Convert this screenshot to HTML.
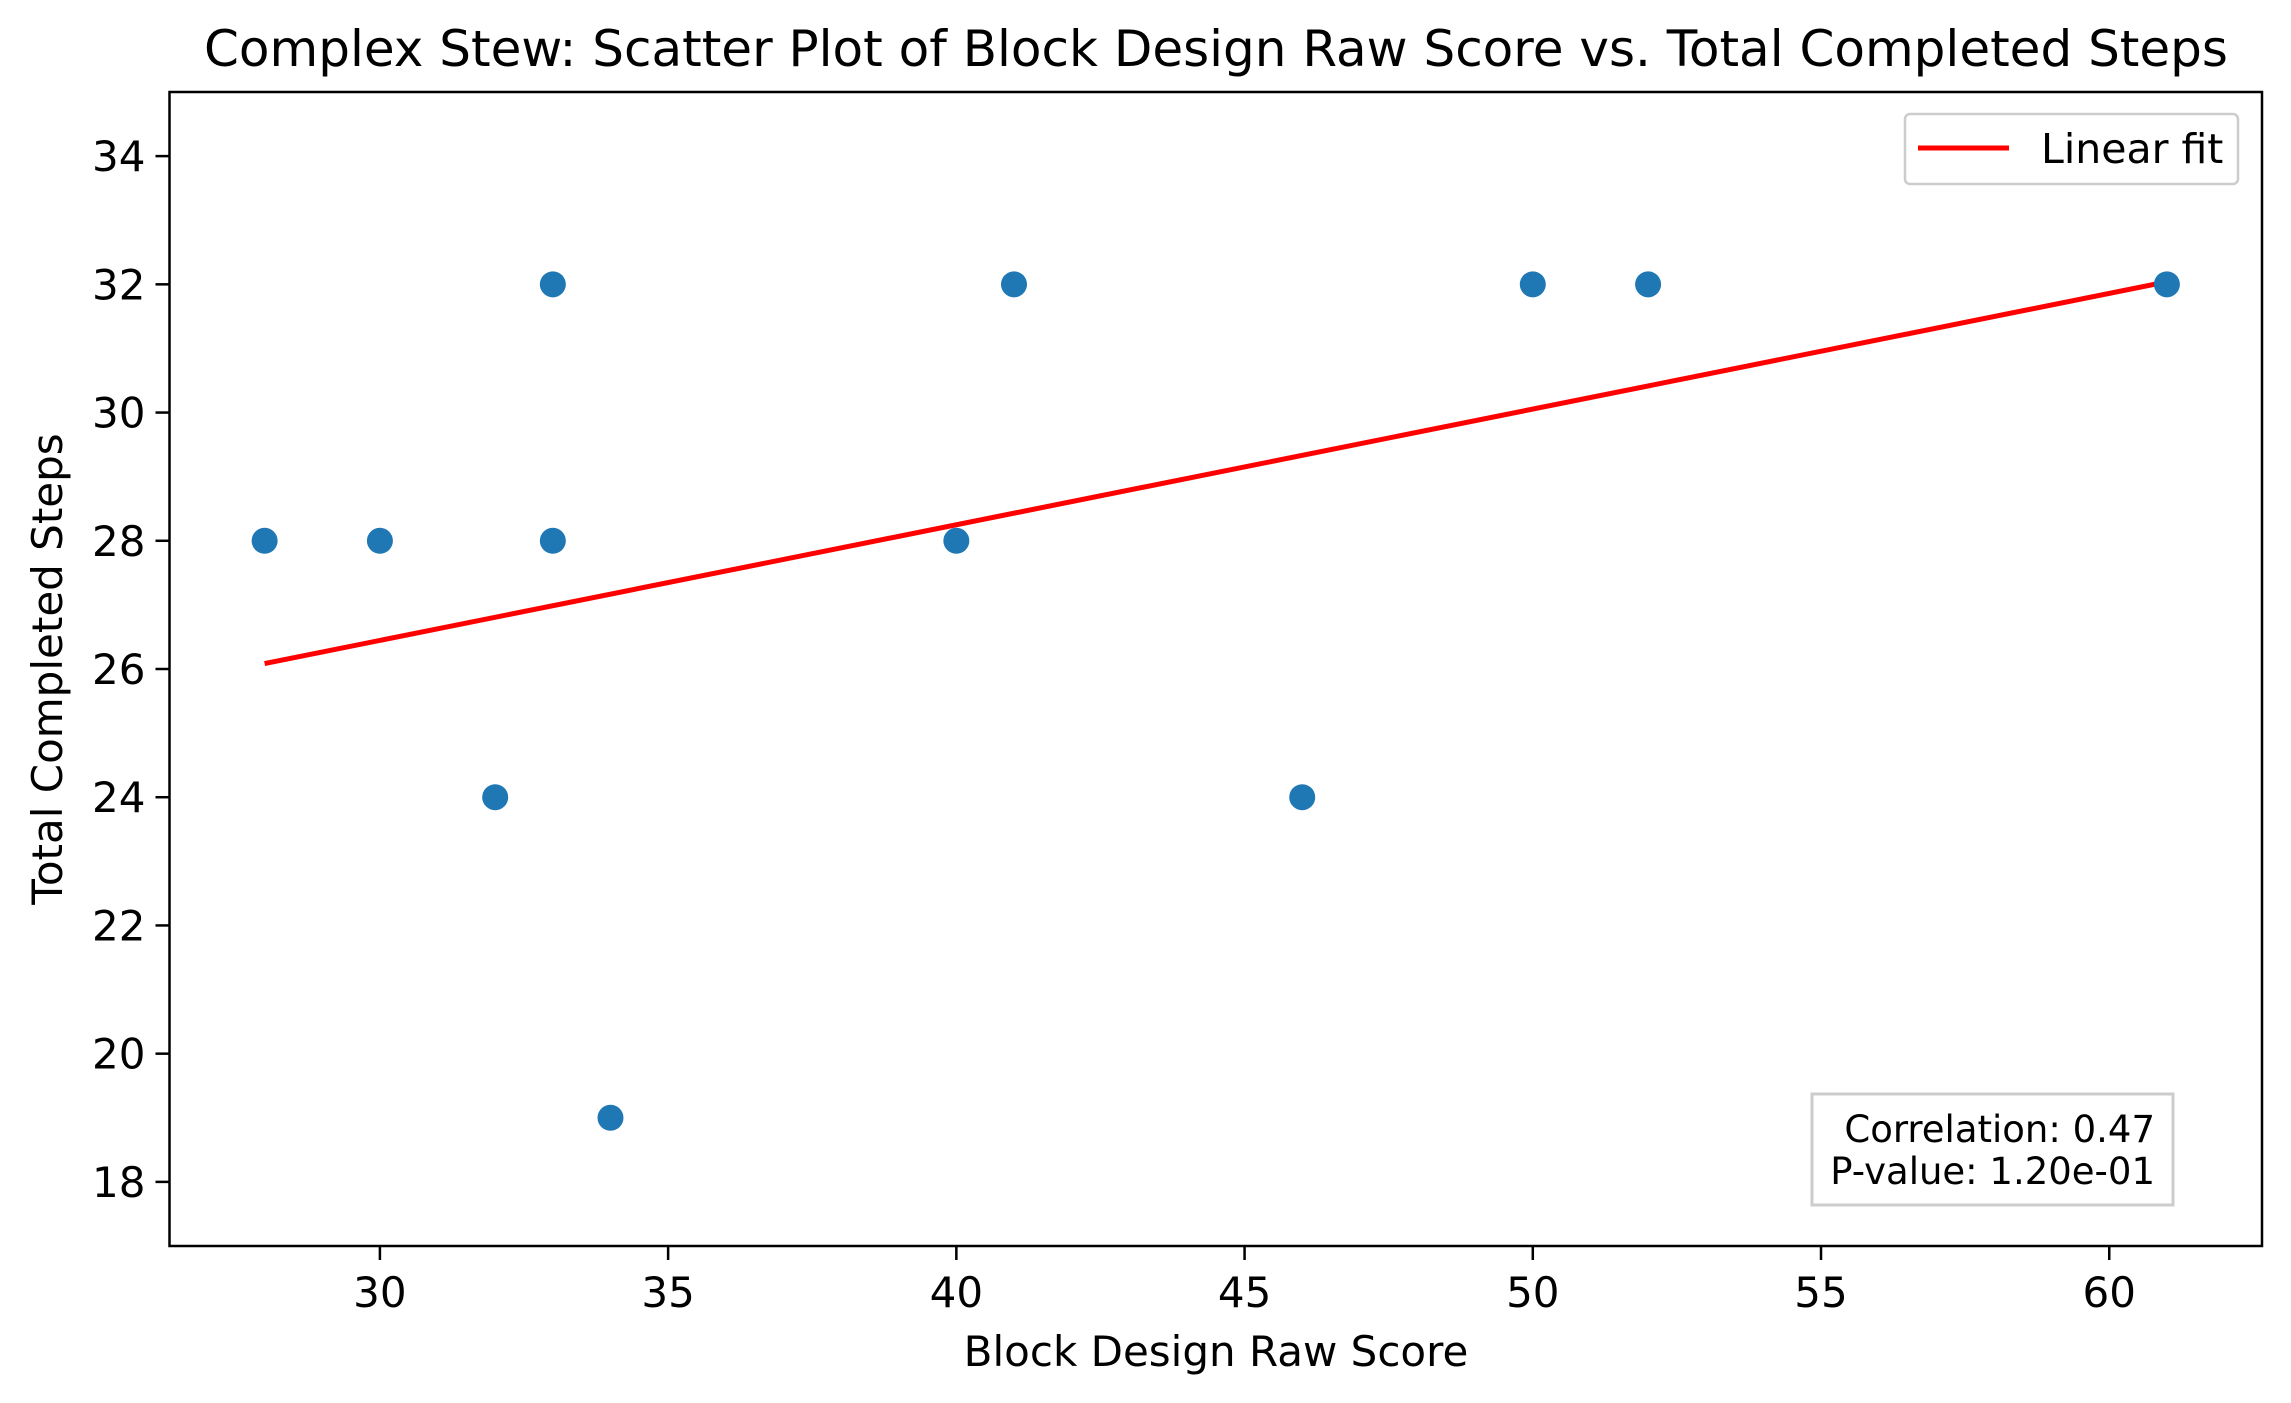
<!DOCTYPE html>
<html><head><meta charset="utf-8">
<style>
html,body{margin:0;padding:0;background:#fff;}
svg{display:block;font-family:"DejaVu Sans","Liberation Sans",sans-serif;}
</style></head>
<body>
<svg id="chart" width="2291" height="1403" viewBox="0 0 2291 1403" xmlns="http://www.w3.org/2000/svg">
<rect width="2291" height="1403" fill="#fff"/>
<text x="1216" y="66" font-size="50" text-anchor="middle">Complex Stew: Scatter Plot of Block Design Raw Score vs. Total Completed Steps</text>
<g id="xticks"></g>
<g id="yticks"></g>
<g id="fit"></g>
<g id="points"></g>
<rect x="169.5" y="92" width="2092.5" height="1154" fill="none" stroke="#000" stroke-width="2.5"/>
<text x="1216" y="1366" font-size="42" text-anchor="middle">Block Design Raw Score</text>
<text transform="translate(62,669) rotate(-90)" font-size="42" text-anchor="middle">Total Completed Steps</text>
<g>
<rect x="1905" y="114" width="333" height="70" rx="5" fill="#fff" stroke="#ccc" stroke-width="2.5"/>
<line x1="1918" y1="148" x2="2009" y2="148" stroke="red" stroke-width="5"/>
<text x="2041" y="163" font-size="41">Linear fit</text>
</g>
<g>
<rect x="1812" y="1094" width="361" height="111" fill="#fff" stroke="#ccc" stroke-width="3"/>
<text x="2155" y="1142" font-size="37" text-anchor="end">Correlation: 0.47</text>
<text x="2155" y="1184" font-size="37" text-anchor="end">P-value: 1.20e-01</text>
</g>
</svg>
<script>
const xValues = [28, 30, 33, 33, 32, 34, 40, 41, 46, 50, 52, 61];
const yValues = [28, 28, 32, 28, 24, 19, 28, 32, 24, 32, 32, 32];
const xTickLabels = [30, 35, 40, 45, 50, 55, 60];
const yTickLabels = [18, 20, 22, 24, 26, 28, 30, 32, 34];

const NS = "http://www.w3.org/2000/svg";
const L = 169.5, R = 2262, T = 92, B = 1246;
const xMin = 26.35, xMax = 62.65, yMin = 17.0, yMax = 35.0;
function sx(v){ return L + (v - xMin) / (xMax - xMin) * (R - L); }
function sy(v){ return B - (v - yMin) / (yMax - yMin) * (B - T); }
function mk(tag, attrs){ const e = document.createElementNS(NS, tag); for (const k in attrs) e.setAttribute(k, attrs[k]); return e; }

const xg = document.getElementById('xticks');
xTickLabels.forEach(v => {
  const t = mk('line', {x1: sx(v), x2: sx(v), y1: B, y2: B + 14, stroke: '#000', 'stroke-width': 2.5});
  
  
  xg.appendChild(t);
  const tx = mk('text', {x: sx(v), y: B + 61, 'font-size': 42, 'text-anchor': 'middle'});
  tx.textContent = v;
  
  
  xg.appendChild(tx);
});
const yg = document.getElementById('yticks');
yTickLabels.forEach(v => {
  const t = mk('line', {x1: L - 14, x2: L, y1: sy(v), y2: sy(v), stroke: '#000', 'stroke-width': 2.5});
  
  
  yg.appendChild(t);
  const tx = mk('text', {x: L - 24, y: sy(v) + 15, 'font-size': 42, 'text-anchor': 'end'});
  tx.textContent = v;
  
  
  yg.appendChild(tx);
});

// linear regression
const n = xValues.length;
const mx = xValues.reduce((a,b)=>a+b,0)/n, my = yValues.reduce((a,b)=>a+b,0)/n;
let sxy = 0, sxx = 0;
for (let i=0;i<n;i++){ sxy += (xValues[i]-mx)*(yValues[i]-my); sxx += (xValues[i]-mx)**2; }
const slope = sxy/sxx, icpt = my - slope*mx;
const x0 = Math.min(...xValues), x1 = Math.max(...xValues);
const fl = mk('line', {x1: sx(x0), y1: sy(icpt+slope*x0), x2: sx(x1), y2: sy(icpt+slope*x1), stroke: 'red', 'stroke-width': 5});



const pg = document.getElementById('points');
xValues.forEach((x, i) => {
  const c = mk('circle', {cx: sx(x), cy: sy(yValues[i]), r: 13, fill: '#1f77b4'});
  
  
  pg.appendChild(c);
});
document.getElementById('fit').appendChild(fl);
</script>
</body></html>
